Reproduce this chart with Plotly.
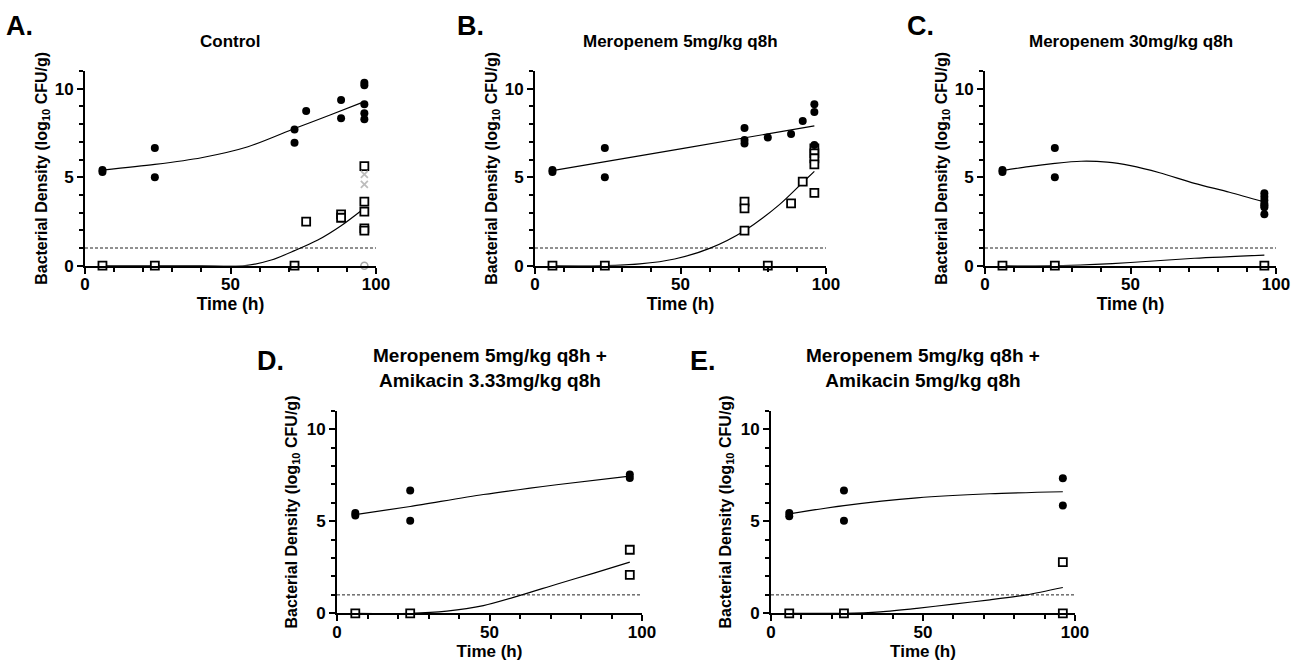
import plotly.graph_objects as go

W, H = 1298, 667

# ---------------- data ----------------
LOQ = 1.0

A_circ_t = [6, 6, 24, 24, 72, 72, 76, 88, 88, 96, 96, 96, 96, 96]
A_circ_y = [5.4, 5.3, 6.65, 5.0, 7.7, 6.95, 8.74, 9.36, 8.33, 10.34, 10.2, 9.12, 8.61, 8.27]
A_sq_t = [6, 24, 72, 76, 88, 88, 96, 96, 96, 96, 96]
A_sq_y = [0, 0, 0, 2.49, 2.9, 2.71, 5.63, 3.62, 3.05, 2.11, 1.98]
A_x_t = [96, 96]
A_x_y = [5.16, 4.6]
A_o_t = [96]
A_o_y = [0]
A_fitc_t = [6, 24, 40, 56, 72, 84, 96]
A_fitc_y = [5.4, 5.72, 6.1, 6.72, 7.75, 8.5, 9.27]
A_fits_t = [6, 24, 40, 55, 64, 72, 80, 88, 96]
A_fits_y = [0, 0, 0, 0, 0.32, 0.85, 1.45, 2.26, 3.25]

B_circ_t = [6, 6, 24, 24, 72, 72, 72, 80, 88, 92, 96, 96, 96]
B_circ_y = [5.4, 5.3, 6.65, 5.0, 7.78, 7.1, 6.91, 7.24, 7.44, 8.18, 9.12, 8.68, 6.82]
B_sq_t = [6, 24, 80, 72, 72, 72, 88, 92, 96, 96, 96, 96, 96]
B_sq_y = [0, 0, 0, 3.62, 3.24, 1.98, 3.52, 4.75, 6.63, 6.35, 6.07, 5.73, 4.12]
B_fitc_t = [6, 51, 96]
B_fitc_y = [5.37, 6.63, 7.9]
B_fits_t = [6, 24, 36, 48, 60, 72, 84, 92, 96]
B_fits_y = [0, 0, 0.1, 0.38, 0.98, 1.98, 3.45, 4.7, 5.33]

C_circ_t = [6, 6, 24, 24, 96, 96, 96, 96, 96, 96, 96]
C_circ_y = [5.4, 5.3, 6.65, 5.0, 4.1, 3.9, 3.7, 3.5, 3.4, 3.3, 2.9]
C_sq_t = [6, 24, 96]
C_sq_y = [0, 0, 0]
C_fitc_t = [6, 15, 24, 33, 42, 50, 60, 72, 84, 96]
C_fitc_y = [5.37, 5.6, 5.78, 5.9, 5.85, 5.65, 5.25, 4.65, 4.15, 3.6]
C_fits_t = [6, 24, 36, 50, 72, 96]
C_fits_y = [0, 0, 0.06, 0.18, 0.42, 0.6]

D_circ_t = [6, 6, 24, 24, 96, 96]
D_circ_y = [5.45, 5.31, 6.67, 5.02, 7.54, 7.35]
D_sq_t = [6, 24, 96, 96]
D_sq_y = [0, 0, 3.45, 2.09]
D_fitc_t = [6, 24, 48, 72, 96]
D_fitc_y = [5.36, 5.8, 6.45, 6.98, 7.45]
D_fits_t = [6, 24, 36, 48, 60, 72, 84, 96]
D_fits_y = [0, 0, 0.12, 0.42, 0.97, 1.58, 2.17, 2.78]

E_circ_t = [6, 6, 24, 24, 96, 96]
E_circ_y = [5.45, 5.27, 6.67, 5.02, 7.33, 5.85]
E_sq_t = [6, 24, 96, 96]
E_sq_y = [0, 0, 0, 2.78]
E_fitc_t = [6, 24, 48, 72, 96]
E_fitc_y = [5.4, 5.85, 6.27, 6.49, 6.6]
E_fits_t = [6, 24, 36, 48, 60, 72, 84, 96]
E_fits_y = [0, 0, 0.08, 0.27, 0.5, 0.73, 1.0, 1.4]

x_ticks = [0, 50, 100]
y_ticks = [0, 5, 10]
x_title = "Time (h)"
y_title = "Bacterial Density (log<sub>10</sub> CFU/g)"

panels = [
    dict(letter="A.", title="Control",
         circ=(A_circ_t, A_circ_y), sq=(A_sq_t, A_sq_y),
         fitc=(A_fitc_t, A_fitc_y), fits=(A_fits_t, A_fits_y),
         px=(85, 376), py=(71, 265.7), letter_pos=(4, 26), title_y=41,
         tfs=17, xfs=17.5, yfs=16, tick=17, xso=4, yso=3),
    dict(letter="B.", title="Meropenem 5mg/kg q8h",
         circ=(B_circ_t, B_circ_y), sq=(B_sq_t, B_sq_y),
         fitc=(B_fitc_t, B_fitc_y), fits=(B_fits_t, B_fits_y),
         px=(535, 826), py=(71, 265.7), letter_pos=(455, 26), title_y=41,
         tfs=17, xfs=17.5, yfs=16, tick=17, xso=4, yso=3),
    dict(letter="C.", title="Meropenem 30mg/kg q8h",
         circ=(C_circ_t, C_circ_y), sq=(C_sq_t, C_sq_y),
         fitc=(C_fitc_t, C_fitc_y), fits=(C_fits_t, C_fits_y),
         px=(985, 1276), py=(71, 265.7), letter_pos=(905, 26), title_y=41,
         tfs=17, xfs=17.5, yfs=16, tick=17, xso=4, yso=3),
    dict(letter="D.", title="Meropenem 5mg/kg q8h +<br>Amikacin 3.33mg/kg q8h",
         circ=(D_circ_t, D_circ_y), sq=(D_sq_t, D_sq_y),
         fitc=(D_fitc_t, D_fitc_y), fits=(D_fits_t, D_fits_y),
         px=(337, 642), py=(410.7, 613.3), letter_pos=(255, 361), title_y=368,
         tfs=19, xfs=17, yfs=16, tick=17, xso=1, yso=5),
    dict(letter="E.", title="Meropenem 5mg/kg q8h +<br>Amikacin 5mg/kg q8h",
         circ=(E_circ_t, E_circ_y), sq=(E_sq_t, E_sq_y),
         fitc=(E_fitc_t, E_fitc_y), fits=(E_fits_t, E_fits_y),
         px=(771, 1075), py=(410.7, 613.3), letter_pos=(688, 361), title_y=368,
         tfs=19, xfs=17, yfs=16, tick=17, xso=1, yso=5),
]

FONT = "Arial, 'Liberation Sans', Helvetica, sans-serif"

fig = go.Figure()
annotations = []
shapes = []
layout = {}

for i, p in enumerate(panels):
    n = i + 1
    xa = "x" if n == 1 else f"x{n}"
    ya = "y" if n == 1 else f"y{n}"
    xkey = "xaxis" if n == 1 else f"xaxis{n}"
    ykey = "yaxis" if n == 1 else f"yaxis{n}"
    x0, x1 = p["px"][0] / W, p["px"][1] / W
    ytop, ybot = 1 - p["py"][0] / H, 1 - p["py"][1] / H

    # fitted curves
    for key in ("fitc", "fits"):
        t, y = p[key]
        fig.add_trace(go.Scatter(x=t, y=y, mode="lines", xaxis=xa, yaxis=ya,
                                 line=dict(color="black", width=1.2, shape="spline", smoothing=0.8),
                                 showlegend=False, hoverinfo="skip", cliponaxis=False))
    # squares
    t, y = p["sq"]
    fig.add_trace(go.Scatter(x=t, y=y, mode="markers", xaxis=xa, yaxis=ya,
                             marker=dict(symbol="square", size=8, color="white",
                                         line=dict(color="black", width=1.8)),
                             showlegend=False, cliponaxis=False))
    if i == 0:
        fig.add_trace(go.Scatter(x=A_x_t, y=A_x_y, mode="markers", xaxis=xa, yaxis=ya,
                                 marker=dict(symbol="x-thin-open", size=7, color="#bdbdbd",
                                             line=dict(color="#bdbdbd", width=1.8)),
                                 showlegend=False, cliponaxis=False))
        fig.add_trace(go.Scatter(x=A_o_t, y=A_o_y, mode="markers", xaxis=xa, yaxis=ya,
                                 marker=dict(symbol="circle-open", size=7, color="#a6a6a6",
                                             line=dict(color="#a6a6a6", width=1.6)),
                                 showlegend=False, cliponaxis=False))
    # circles
    t, y = p["circ"]
    fig.add_trace(go.Scatter(x=t, y=y, mode="markers", xaxis=xa, yaxis=ya,
                             marker=dict(symbol="circle", size=8, color="black"),
                             showlegend=False, cliponaxis=False))

    # LOQ dashed line
    shapes.append(dict(type="line", xref=xa, yref=ya, x0=0, x1=100, y0=LOQ, y1=LOQ,
                       line=dict(color="#222222", width=1, dash="3px,2px"), layer="below"))

    axis_common = dict(showline=True, linewidth=2, linecolor="black", ticks="outside",
                       tickwidth=2, tickcolor="black", ticklen=6, showgrid=False,
                       zeroline=False, fixedrange=True, automargin=False,
                       tickfont=dict(family=FONT, size=p["tick"], color="black", weight="bold"))
    layout[xkey] = dict(axis_common, domain=[x0, x1], range=[0, 100], anchor=ya,
                        tickvals=x_ticks, ticklabelstandoff=-4,
                        minor=dict(ticks="outside", dtick=10, tick0=0, ticklen=4,
                                   tickwidth=1.5, tickcolor="black"),
                        title=dict(text=x_title, standoff=p["xso"],
                                   font=dict(family=FONT, size=p["xfs"], color="black", weight="bold")))
    layout[ykey] = dict(axis_common, domain=[ybot, ytop], range=[0, 11], anchor=xa,
                        tickvals=y_ticks,
                        minor=dict(ticks="outside", dtick=1, tick0=0, ticklen=4,
                                   tickwidth=1.5, tickcolor="black"),
                        title=dict(text=y_title, standoff=p["yso"],
                                   font=dict(family=FONT, size=p["yfs"], color="black", weight="bold")))

    # panel letter
    lx, ly = p["letter_pos"]
    annotations.append(dict(text=p["letter"], x=lx / W, y=1 - ly / H, xref="paper", yref="paper",
                            xanchor="left", yanchor="middle", showarrow=False,
                            font=dict(family=FONT, size=27, color="black", weight="bold")))
    # panel title
    cx = (p["px"][0] + p["px"][1]) / 2 / W
    annotations.append(dict(text=p["title"], x=cx, y=1 - p["title_y"] / H, xref="paper", yref="paper",
                            xanchor="center", yanchor="middle", showarrow=False,
                            font=dict(family=FONT, size=p["tfs"], color="black", weight="bold")))

fig.update_layout(**layout)
fig.update_layout(width=W, height=H, margin=dict(l=0, r=0, t=0, b=0, autoexpand=False),
                  paper_bgcolor="white", plot_bgcolor="white",
                  annotations=annotations, shapes=shapes, showlegend=False,
                  font=dict(family=FONT, color="black"))

fig.write_html("out.html")
